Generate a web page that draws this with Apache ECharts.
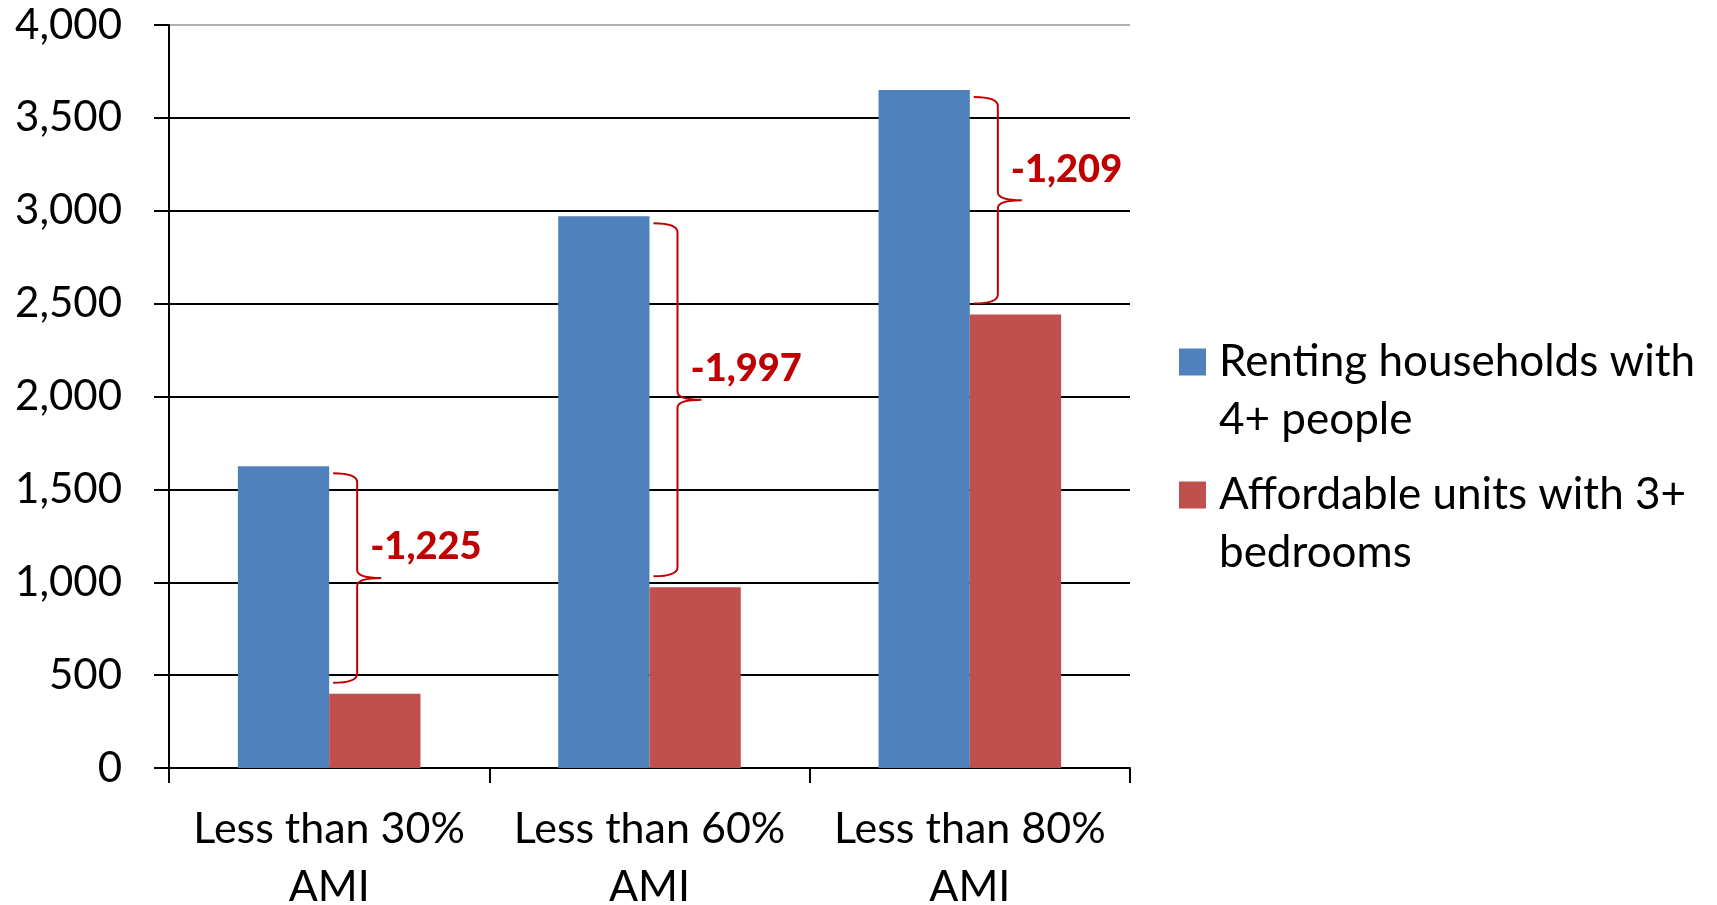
<!DOCTYPE html>
<html><head><meta charset="utf-8">
<script src="https://cdn.jsdelivr.net/npm/echarts@6/dist/echarts.min.js"></script>
<style>html,body{margin:0;padding:0;background:#fff;}#c{width:1717px;height:905px;}</style>
</head><body><div id="c"></div>
<script>
const categories = ['Less than 30%\nAMI', 'Less than 60%\nAMI', 'Less than 80%\nAMI'];
const seriesNames = ['Renting households with\n4+ people', 'Affordable units with 3+\nbedrooms'];
const rentingHouseholds = [1625, 2970, 3650];
const affordableUnits = [400, 973, 2441];
const yMin = 0, yMax = 4000, yStep = 500;

const FONT = 'Lato';
const braceData = categories.map((c, i) => [i, rentingHouseholds[i], affordableUnits[i]]);

const chart = echarts.init(document.getElementById('c'), null, {renderer: 'canvas'});
chart.setOption({
  animation: false,
  backgroundColor: '#fff',
  grid: {left: 169, right: 587, top: 25, bottom: 137, containLabel: false, outerBoundsMode: 'none'},
  legend: {
    data: seriesNames,
    orient: 'vertical',
    left: 1179,
    top: 275,
    padding: 0,
    itemGap: -41,
    itemWidth: 27,
    itemHeight: 27,
    icon: 'rect',
    selectedMode: false,
    formatter: name => '\n' + name,
    textStyle: {color: '#000', fontSize: 44, fontFamily: FONT, lineHeight: 58, padding: [0, 0, 0, 8]}
  },
  xAxis: {
    type: 'category',
    data: categories,
    axisLine: {lineStyle: {color: '#000', width: 2}},
    axisTick: {show: true, length: 15, lineStyle: {color: '#000', width: 2}},
    axisLabel: {interval: 0, color: '#000', fontSize: 43, fontFamily: FONT, lineHeight: 58, margin: 32}
  },
  yAxis: {
    type: 'value',
    min: yMin, max: yMax, interval: yStep,
    axisLine: {show: true, lineStyle: {color: '#000', width: 2}},
    axisTick: {show: true, length: 15, lineStyle: {color: '#000', width: 2}},
    splitLine: {show: true, showMinLine: true, showMaxLine: true, lineStyle: {color: ['#000','#000','#000','#000','#000','#000','#000','#000','#b0b0b0'], width: 2}},
    axisLabel: {color: '#000', fontSize: 42, fontFamily: FONT, margin: 47, formatter: v => v.toLocaleString('en-US')}
  },
  series: [
    {name: seriesNames[0], type: 'bar', data: rentingHouseholds, barGap: '0%', barCategoryGap: '43%', itemStyle: {color: '#4F81BD'}},
    {name: seriesNames[1], type: 'bar', data: affordableUnits, barGap: '0%', barCategoryGap: '43%', itemStyle: {color: '#C0504D'}},
    {
      type: 'custom',
      data: braceData,
      z: 10,
      silent: true,
      renderItem: function (params, api) {
        const i = api.value(0);
        const top = api.coord([i, api.value(1)]);
        const bot = api.coord([i, api.value(2)]);
        const cx = top[0];
        const x0 = cx + 4, xv = cx + 28, xt = cx + 52;
        const y0 = top[1] + 7, y1 = bot[1] - 11, ym = (y0 + y1) / 2;
        const r = 9, rm = 8;
        const d = 'M' + x0 + ' ' + y0 + ' Q' + xv + ' ' + y0 + ' ' + xv + ' ' + (y0 + r) +
          ' L' + xv + ' ' + (ym - rm) + ' Q' + xv + ' ' + ym + ' ' + xt + ' ' + ym +
          ' M' + xt + ' ' + ym + ' Q' + xv + ' ' + ym + ' ' + xv + ' ' + (ym + rm) +
          ' L' + xv + ' ' + (y1 - r) + ' Q' + xv + ' ' + y1 + ' ' + x0 + ' ' + y1;
        const diff = api.value(2) - api.value(1);
        return {
          type: 'group',
          children: [
            {type: 'path', shape: {pathData: d}, style: {stroke: '#C00000', lineWidth: 2, fill: 'none'}},
            {type: 'text', x: xt - 11, y: ym - 31, style: {text: diff.toLocaleString('en-US'), fill: '#C00000', font: '900 38px ' + FONT, align: 'left', verticalAlign: 'middle'}}
          ]
        };
      }
    }
  ]
});
</script>
</body></html>
